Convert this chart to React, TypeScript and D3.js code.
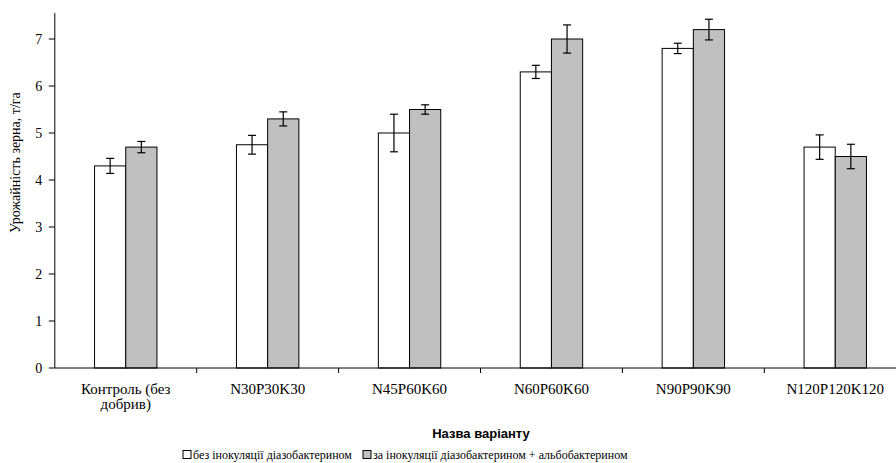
import React from "react";
import * as d3 from "d3";

// Grain yield by fertiliser variant, t/ha
const categories = [
  ["Контроль (без", "добрив)"],
  ["N30P30K30"],
  ["N45P60K60"],
  ["N60P60K60"],
  ["N90P90K90"],
  ["N120P120K120"],
];
const seriesNames = [
  "без інокуляції діазобактерином",
  "за інокуляції діазобактерином + альбобактерином",
];
const noInoculation = [4.3, 4.75, 5.0, 6.3, 6.8, 4.7];
const noInoculationErr = [0.16, 0.2, 0.4, 0.14, 0.11, 0.26];
const withInoculation = [4.7, 5.3, 5.5, 7.0, 7.2, 4.5];
const withInoculationErr = [0.12, 0.15, 0.1, 0.3, 0.22, 0.26];
const yTicks = [0, 1, 2, 3, 4, 5, 6, 7];
const yTitle = "Урожайність зерна, т/га";
const xTitle = "Назва варіанту";

const W = 896;
const H = 463;
const serif = "'Liberation Serif', 'Times New Roman', serif";
const sans = "'Liberation Sans', Arial, sans-serif";
const fills = ["#ffffff", "#c0c0c0"];

export default function App() {
  const left = 54.8;
  const bandW = 141.9;
  const x = d3
    .scaleBand<number>()
    .domain(categories.map((_, i) => i))
    .range([left, left + bandW * categories.length])
    .padding(0);
  const barW = 31.2;
  const inner = d3
    .scaleBand<number>()
    .domain([0, 1])
    .range([x.bandwidth() / 2 - barW, x.bandwidth() / 2 + barW])
    .padding(0);
  const y = d3.scaleLinear().domain([0, 7]).range([368, 39]);
  const axisTop = y(7.55);

  const values = [noInoculation, withInoculation];
  const errs = [noInoculationErr, withInoculationErr];

  return (
    <svg
      width={W}
      height={H}
      style={{ position: "absolute", left: 0, top: 0, background: "#fff" }}
    >
      {/* bars */}
      {categories.map((_, ci) =>
        values.map((vals, si) => {
          const bx = (x(ci) as number) + (inner(si) as number);
          return (
            <rect
              key={`b${ci}-${si}`}
              x={bx}
              y={y(vals[ci])}
              width={inner.bandwidth()}
              height={y(0) - y(vals[ci])}
              fill={fills[si]}
              stroke="#000"
              strokeWidth={1}
            />
          );
        })
      )}
      {/* error bars */}
      {categories.map((_, ci) =>
        values.map((vals, si) => {
          const cx =
            (x(ci) as number) + (inner(si) as number) + inner.bandwidth() / 2;
          const hi = y(vals[ci] + errs[si][ci]);
          const lo = y(vals[ci] - errs[si][ci]);
          return (
            <g key={`e${ci}-${si}`} stroke="#000" strokeWidth={1.2}>
              <line x1={cx} x2={cx} y1={hi} y2={lo} />
              <line x1={cx - 4} x2={cx + 4} y1={hi} y2={hi} />
              <line x1={cx - 4} x2={cx + 4} y1={lo} y2={lo} />
            </g>
          );
        })
      )}
      {/* y axis */}
      <line x1={left} x2={left} y1={axisTop} y2={y(0)} stroke="#000" />
      {yTicks.map((t) => (
        <g key={`yt${t}`}>
          <line x1={left - 6} x2={left} y1={y(t)} y2={y(t)} stroke="#000" />
          <text
            x={left - 12.5}
            y={y(t)}
            dy="0.35em"
            textAnchor="end"
            fontFamily={serif}
            fontSize={14}
          >
            {t}
          </text>
        </g>
      ))}
      <text
        transform={`translate(20,${(y(0) + axisTop) / 2 - 28}) rotate(-90)`}
        textAnchor="middle"
        fontFamily={serif}
        fontSize={14}
      >
        {yTitle}
      </text>
      {/* x axis */}
      <line x1={left} x2={W} y1={y(0)} y2={y(0)} stroke="#000" />
      {categories.map((_, ci) => (
        <line
          key={`xt${ci}`}
          x1={(x(ci) as number) + x.bandwidth()}
          x2={(x(ci) as number) + x.bandwidth()}
          y1={y(0)}
          y2={y(0) + 5}
          stroke="#000"
        />
      ))}
      {categories.map((lines, ci) => (
        <text
          key={`xl${ci}`}
          x={(x(ci) as number) + x.bandwidth() / 2}
          y={394}
          textAnchor="middle"
          fontFamily={serif}
          fontSize={15}
        >
          {lines.map((l, li) => (
            <tspan
              key={li}
              x={(x(ci) as number) + x.bandwidth() / 2}
              dy={li === 0 ? 0 : 15}
            >
              {l}
            </tspan>
          ))}
        </text>
      ))}
      <text
        x={481}
        y={438}
        textAnchor="middle"
        fontFamily={sans}
        fontWeight="bold"
        fontSize={13}
      >
        {xTitle}
      </text>
      {/* legend */}
      {seriesNames.map((name, si) => {
        const lx = [183, 363][si];
        return (
          <g key={`lg${si}`}>
            <rect
              x={lx}
              y={450.5}
              width={8}
              height={8}
              fill={fills[si]}
              stroke="#000"
            />
            <text x={lx + 10} y={459} fontFamily={serif} fontSize={12}>
              {name}
            </text>
          </g>
        );
      })}
    </svg>
  );
}
